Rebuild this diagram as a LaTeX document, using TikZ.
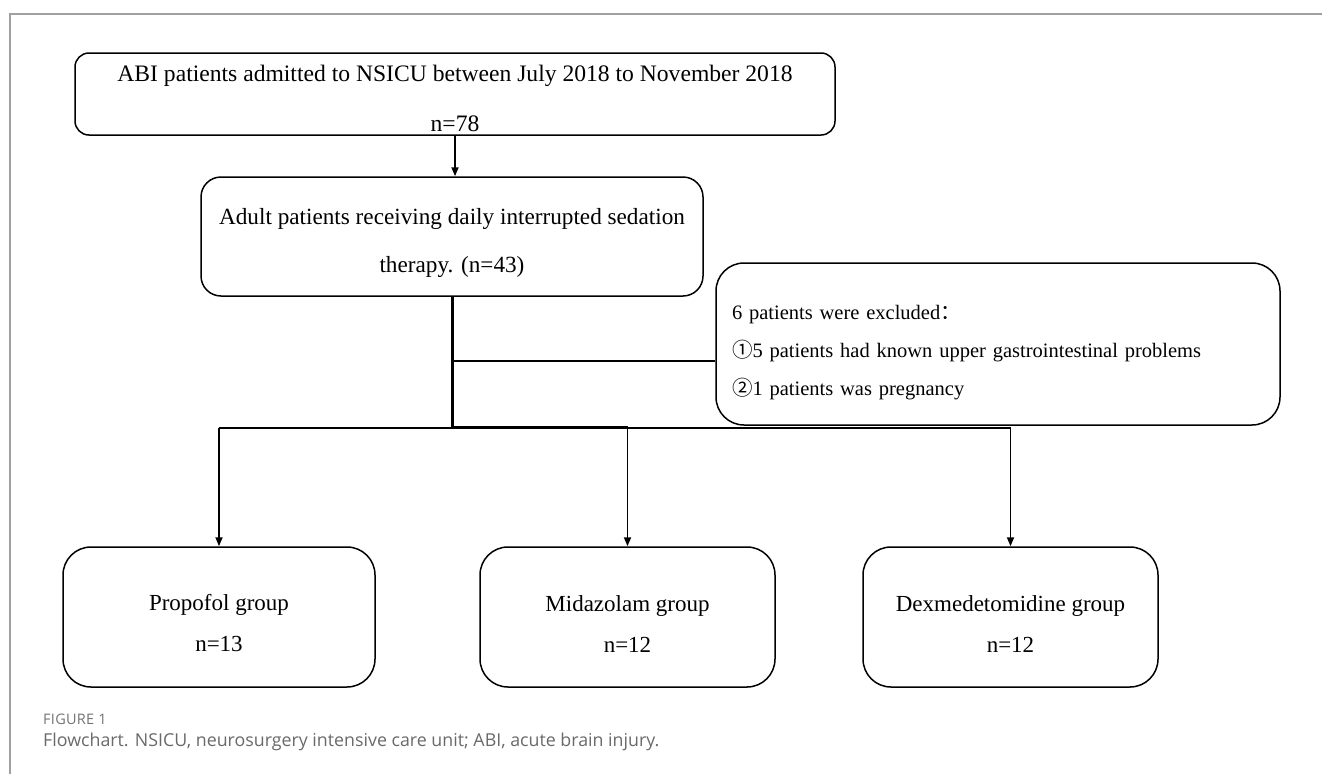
\documentclass[tikz,border=0pt]{standalone}
\usepackage{fontspec}
\setmainfont{Liberation Serif}
\newfontfamily\capfont{Open Sans}
\newfontfamily\cjkfont{Noto Sans CJK SC}
\usetikzlibrary{arrows.meta}
\definecolor{framegray}{RGB}{160,160,160}
\definecolor{capgray}{RGB}{105,105,105}
\definecolor{labgray}{RGB}{115,115,115}
\newcommand{\tallstrut}[1]{\rule{0pt}{#1}}
\begin{document}
\begin{tikzpicture}[x=1pt,y=-1pt,
  box/.style={draw=black, line width=1.5pt, rounded corners=16pt, inner sep=0pt, align=center, font=\fontsize{23.2}{48}\selectfont},
  arr/.style={-{Triangle[length=9pt,width=7pt]}, line width=1.8pt},
  conn/.style={line width=1.8pt},
  heavy/.style={line width=3pt},
  captext/.style={anchor=west, inner sep=0pt}
]
\useasboundingbox (0,0) rectangle (1322,774);
\draw[framegray, line width=1.5pt] (1322,14) -- (10,14) -- (10,774);

\node[box, minimum width=760pt, minimum height=82pt, rounded corners=14pt, font=\fontsize{23.6}{50}\selectfont] (abi) at (455,94)
  {\tallstrut{26pt}ABI patients admitted to NSICU between July 2018 to November 2018\\n=78};
\node[box, minimum width=502pt, minimum height=119pt, rounded corners=20pt] (adult) at (452,236.5)
  {\tallstrut{29pt}Adult patients receiving daily interrupted sedation\\therapy. (n=43)};
\node[box, minimum width=564pt, minimum height=162pt, rounded corners=28pt, align=left, text width=532pt,
  font=\fontsize{20.5}{38}\selectfont] (excl) at (998,344)
  {\tallstrut{32pt}6 patients were excluded{\cjkfont ：}\\{\cjkfont ①}5 patients had known upper gastrointestinal problems\\{\cjkfont ②}1 patients was pregnancy};

\node[box, minimum width=312pt, minimum height=140pt, rounded corners=28pt, font=\fontsize{23}{41}\selectfont] (prop) at (219,617) {\tallstrut{29pt}Propofol group\\n=13};
\node[box, minimum width=295pt, minimum height=140pt, rounded corners=28pt, font=\fontsize{23}{41}\selectfont] (mida) at (627.5,617) {\tallstrut{29pt}Midazolam group\\n=12};
\node[box, minimum width=295pt, minimum height=140pt, rounded corners=28pt, font=\fontsize{23}{41}\selectfont] (dex) at (1010.5,617) {\tallstrut{29pt}Dexmedetomidine group\\n=12};

\path (adult.south) ++(0,131) coordinate (hub);
\path (adult.south) ++(0,64) coordinate (tap);

\draw[arr] (abi.south) -- (abi.south |- adult.north);
\draw[heavy] (adult.south) -- (hub) -- (hub -| mida.north);
\draw[conn] (tap) -- (tap -| excl.west);
\draw[conn] (hub -| prop.north) -- (hub);
\draw[conn] (hub -| mida.north) -- (hub -| dex.north);
\draw[arr] (hub -| prop.north) -- (prop.north);
\draw[arr] (hub -| mida.north) -- (mida.north);
\draw[arr] (hub -| dex.north) -- (dex.north);

\node[captext, text=labgray, font=\capfont\fontsize{14.5}{16}\selectfont\addfontfeature{LetterSpace=2}] (figlabel) at (43,719) {FIGURE 1};
\node[captext, text=capgray, font=\capfont\fontsize{17.8}{20}\selectfont] (caption) at (43,742) {Flowchart. NSICU, neurosurgery intensive care unit; ABI, acute brain injury.};
\end{tikzpicture}
\end{document}
